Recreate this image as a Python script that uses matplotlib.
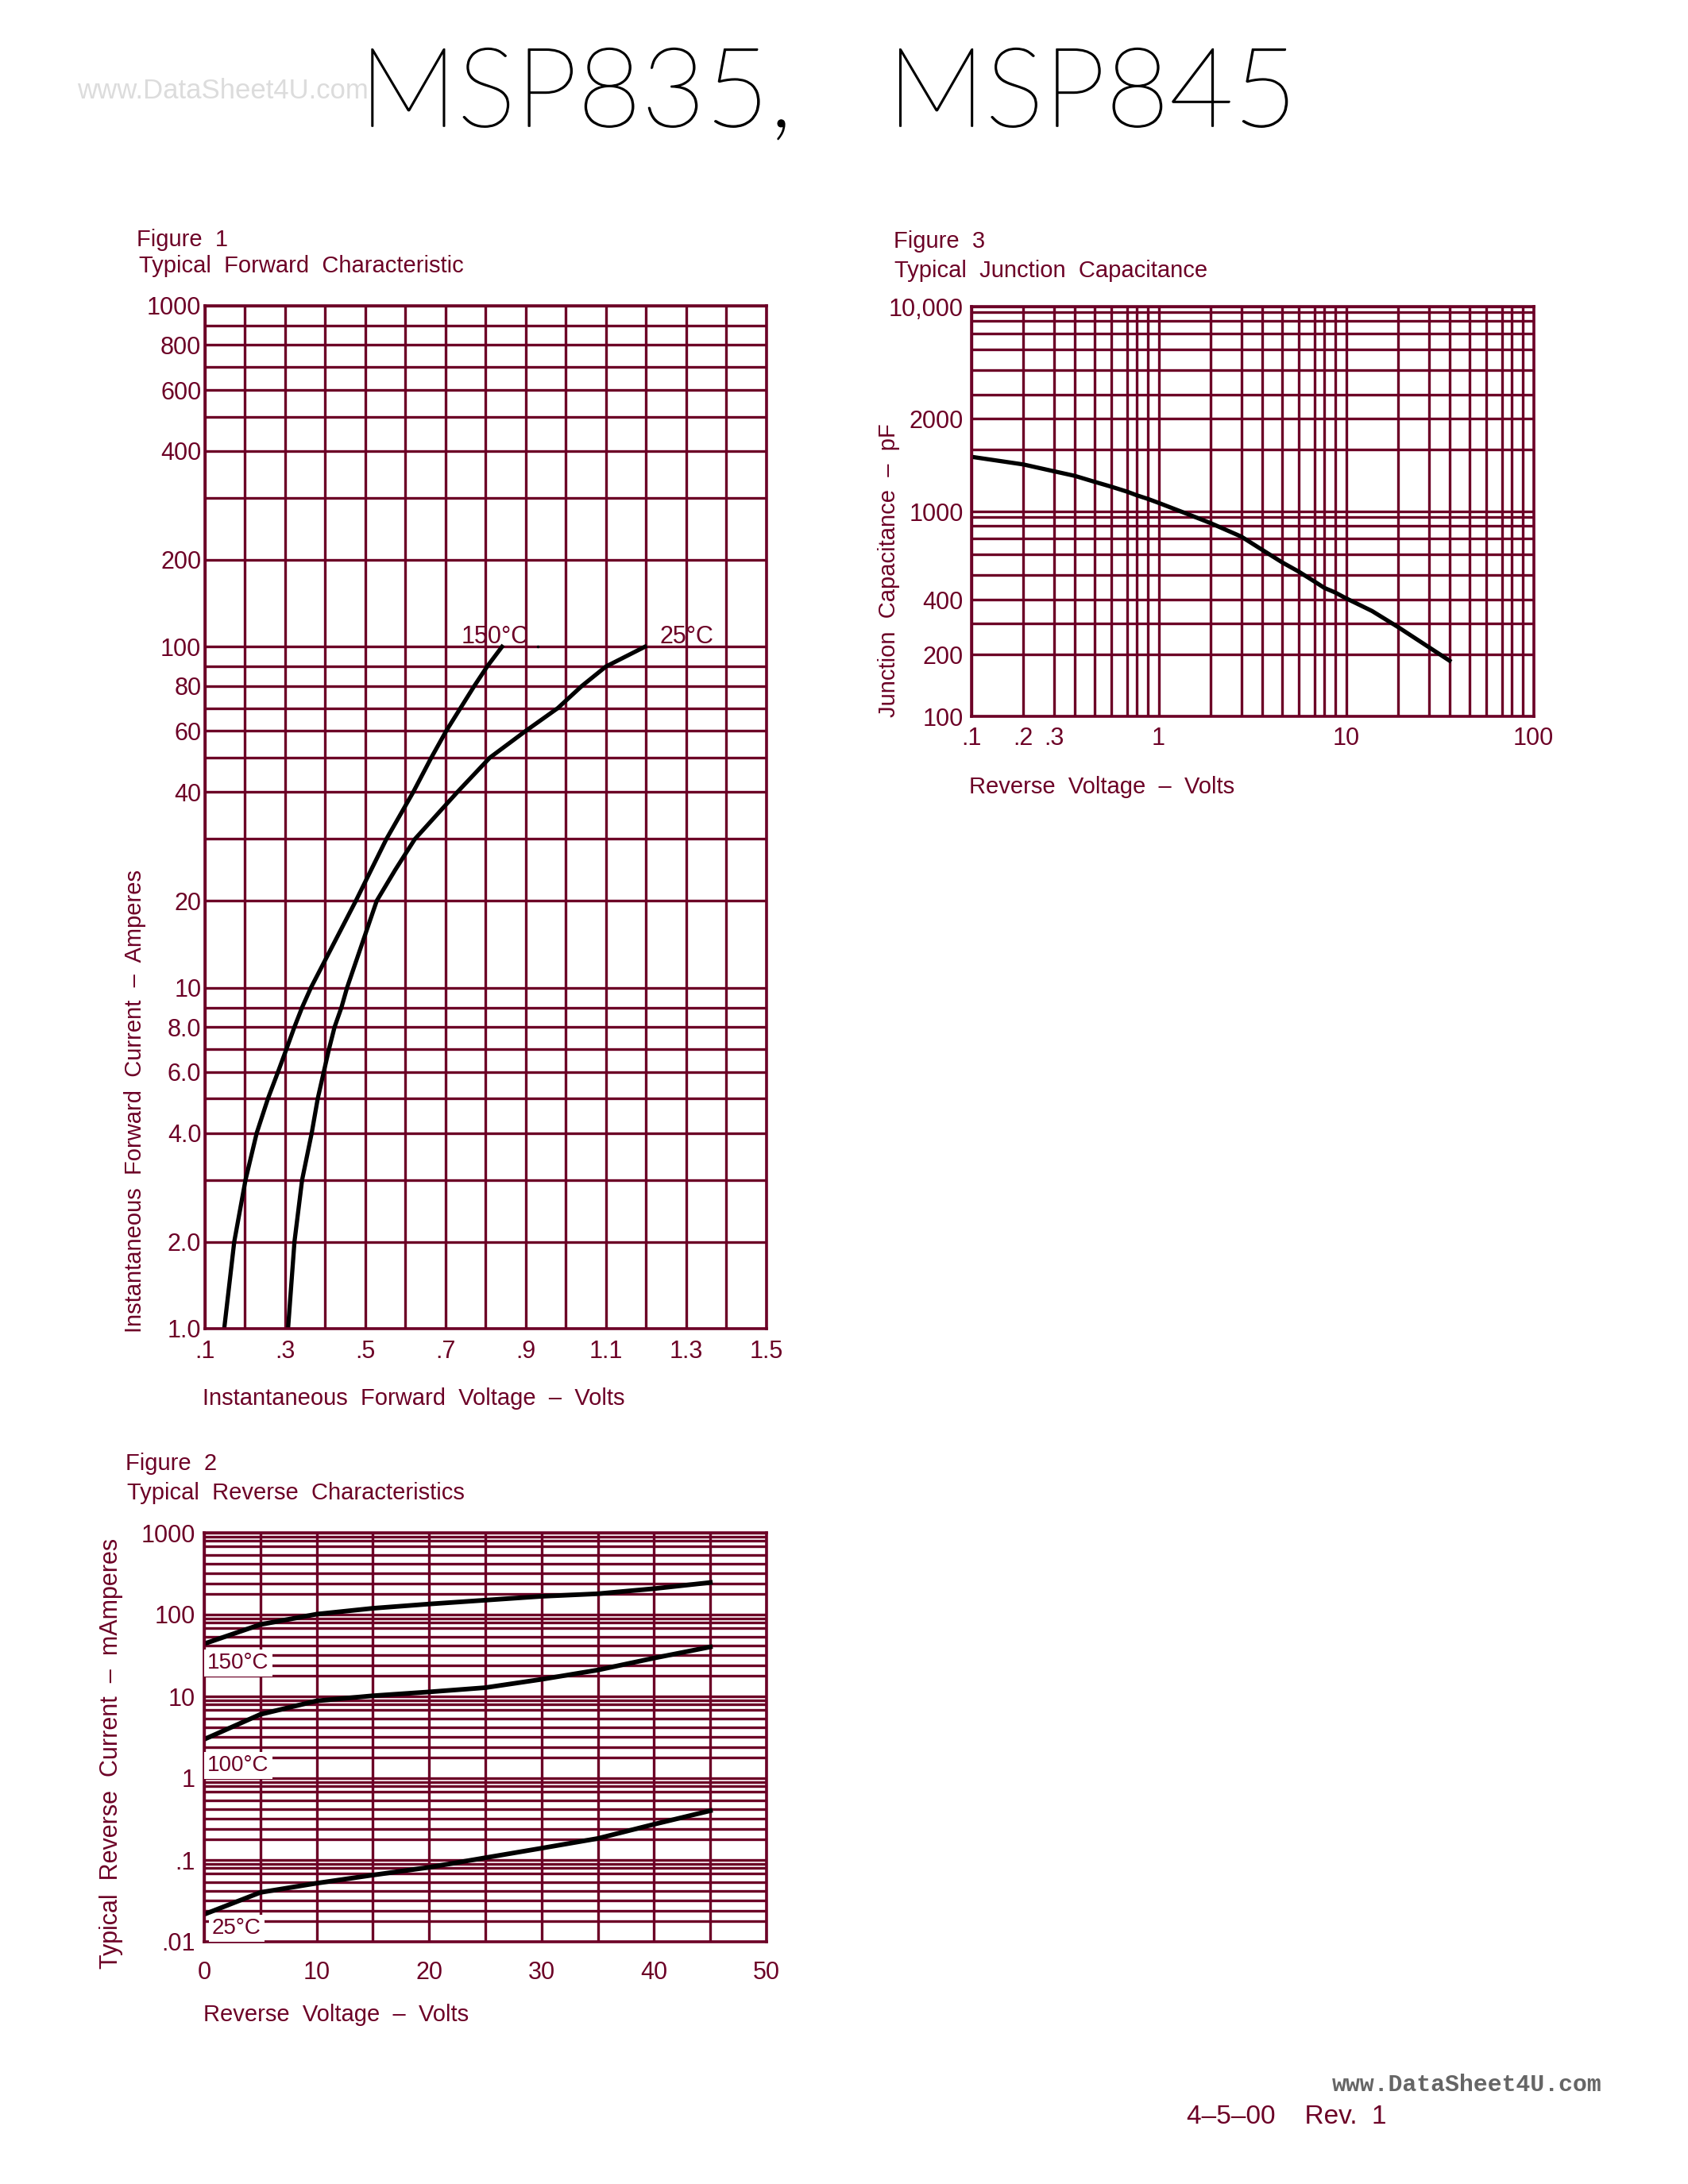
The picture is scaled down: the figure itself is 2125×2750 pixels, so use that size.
import numpy as np
import matplotlib
matplotlib.use('Agg')
import matplotlib.pyplot as plt
import matplotlib.patheffects as pe

W, H = 2125, 2750
MAROON = '#6c0026'
plt.rcParams['font.family'] = ['Liberation Sans', 'DejaVu Sans']

# figure 1 - forward characteristic
f1_v_150 = [.149, .174, .202, .23, .258, .283, .304, .324, .343, .365, .477, .553, .62, .665, .702, .772, .804, .841]
f1_i_150 = [1, 2, 3, 4, 5, 6, 7, 8, 9, 10, 20, 30, 40, 50, 60, 80, 90, 100]
f1_v_25 = [.308, .324, .343, .367, .382, .397, .41, .424, .441, .455, .529, .575, .624, .73, .811, .90, .98, 1.04, 1.10, 1.197]
f1_i_25 = [1, 2, 3, 4, 5, 6, 7, 8, 9, 10, 20, 25, 30, 40, 50, 60, 70, 80, 90, 100]
f1_xticks = [.1, .3, .5, .7, .9, 1.1, 1.3, 1.5]
f1_xlabels = ['.1', '.3', '.5', '.7', '.9', '1.1', '1.3', '1.5']
f1_yticks = [1000, 800, 600, 400, 200, 100, 80, 60, 40, 20, 10, 8, 6, 4, 2, 1]
f1_ylabels = ['1000', '800', '600', '400', '200', '100', '80', '60', '40', '20', '10', '8.0', '6.0', '4.0', '2.0', '1.0']

# figure 2 - reverse characteristics
f2_v = [0, 5, 10, 15, 20, 25, 30, 35, 40, 45]
f2_i_150 = [51.7, 76.8, 102, 131, 152, 171, 190, 205, 253, 311]
f2_i_100 = [3.76, 6.5, 8.9, 10.3, 12.2, 14.3, 18.4, 25.7, 37.1, 48.3]
f2_i_25 = [.0267, .0482, .0588, .0684, .082, .111, .158, .2115, .346, .481]
f2_xticks = [0, 10, 20, 30, 40, 50]
f2_yticks = [1000, 100, 10, 1, .1, .01]
f2_ylabels = ['1000', '100', '10', '1', '.1', '.01']

# figure 3 - junction capacitance
f3_v = [.1, .2, .3, .4, .5, .6, .7, .8, .9, 1, 1.5, 2, 3, 4, 5, 6, 7, 8, 9, 10, 15, 20, 30, 40]
f3_c = [1884, 1760, 1650, 1576, 1477, 1400, 1320, 1260, 1205, 1139, 973, 826, 712, 629, 561, 517, 474, 448, 430, 406, 353, 289, 224, 190]
f3_xticks = [.1, .2, .3, 1, 10, 100]
f3_xlabels = ['.1', '.2', '.3', '1', '10', '100']
# the 2000 label sits on the third line of the decade in the original
f3_yticks = [10000, 3000, 1000, 400, 200, 100]
f3_ylabels = ['10,000', '2000', '1000', '400', '200', '100']

# the printed grids are not true log paper, line positions inside one decade
MULTS = [1, 2, 3, 4, 5, 6, 7, 8, 9, 10]
F1_FRACS = [0, .255, .436, .574, .675, .753, .82, .885, .942, 1]
F2_FRACS = [0, .248, .378, .505, .625, .728, .832, .90, .95, 1]
F3_YFRACS = [0, .302, .452, .569, .689, .79, .87, .932, .974, 1]
F3_XFRACS = [0, .278, .441, .552, .661, .748, .832, .885, .941, 1]


def paper_scale(fracs):
    def fwd(v):
        v = np.clip(np.asarray(v, dtype=float), 1e-12, None)
        d = np.floor(np.log10(v) + 1e-9)
        return d + np.interp(v / 10.0 ** d, MULTS, fracs)

    def inv(p):
        p = np.asarray(p, dtype=float)
        d = np.floor(p)
        return 10.0 ** d * np.interp(p - d, fracs, MULTS)
    return fwd, inv


def decades(lo, hi):
    out = []
    for d in range(lo, hi):
        out += [m * 10.0 ** d for m in MULTS]
    return sorted(set(out))


def make_axes(left, top, right, bottom):
    ax = fig.add_axes([left / W, 1 - bottom / H, (right - left) / W, (bottom - top) / H])
    for s in ax.spines.values():
        s.set_color(MAROON)
        s.set_linewidth(2.6)
    ax.tick_params(which='both', length=0, colors=MAROON, labelsize=22)
    ax.grid(which='both', color=MAROON, linewidth=2.4)
    ax.set_axisbelow(True)
    return ax


def label(x, y, s, size=21, **kw):
    kw.setdefault('color', MAROON)
    kw.setdefault('ha', 'left')
    kw.setdefault('va', 'center')
    return fig.text(x / W, 1 - y / H, s, fontsize=size, **kw)


fig = plt.figure(figsize=(W / 100, H / 100), dpi=100)

# figure 1
ax1 = make_axes(257.5, 385, 965, 1673)
ax1.set_yscale('function', functions=paper_scale(F1_FRACS))
ax1.set_ylim(1, 1000)
ax1.set_xlim(.1, 1.5)
ax1.set_xticks(np.arange(.1, 1.55, .1), minor=True)
ax1.set_xticks(f1_xticks, f1_xlabels)
ax1.set_yticks(decades(0, 3), minor=True)
ax1.set_yticks(f1_yticks, f1_ylabels)
ax1.tick_params(which='minor', labelleft=False, labelbottom=False)
ax1.tick_params(axis='y', pad=3)
ax1.tick_params(axis='x', pad=10)
ax1.plot(f1_v_150, f1_i_150, color='black', lw=3.8)
ax1.plot(f1_v_25, f1_i_25, color='black', lw=3.8)
ax1.plot([.93], [100], '.', color='black', ms=3)
label(172, 302, 'Figure  1')
label(175, 335, 'Typical  Forward  Characteristic')
label(255, 1761, 'Instantaneous  Forward  Voltage  –  Volts')
label(170, 1678, 'Instantaneous  Forward  Current  –  Amperes', rotation=90, ha='center', va='bottom')
label(581, 802, '150°C', size=22)
label(830, 802, '25°C', size=22)

# figure 2
ax2 = make_axes(257, 1930, 965, 2445)
ax2.set_yscale('function', functions=paper_scale(F2_FRACS))
ax2.set_ylim(.01, 1000)
ax2.set_xlim(0, 50)
ax2.set_xticks(np.arange(0, 51, 5), minor=True)
ax2.set_xticks(f2_xticks, [str(v) for v in f2_xticks])
ax2.set_yticks(decades(-2, 3), minor=True)
ax2.set_yticks(f2_yticks, f2_ylabels)
ax2.tick_params(which='minor', labelleft=False, labelbottom=False)
ax2.tick_params(axis='y', pad=8)
ax2.tick_params(axis='x', pad=17)
ax2.plot(f2_v, f2_i_150, color='black', lw=4.2)
ax2.plot(f2_v, f2_i_100, color='black', lw=4.2)
ax2.plot(f2_v, f2_i_25, color='black', lw=4.2)
label(158, 1843, 'Figure  2')
label(160, 1880, 'Typical  Reverse  Characteristics')
label(256, 2537, 'Reverse  Voltage  –  Volts')
label(140, 2479, 'Typical  Reverse  Current  –  mAmperes', size=22, rotation=90, ha='center', va='bottom')
box = dict(facecolor='white', edgecolor='none', pad=3)
label(261, 2094, '150°C', size=20, bbox=box)
label(261, 2223, '100°C', size=20, bbox=box)
label(267, 2428, '25°C', size=20, bbox=box)

# figure 3
ax3 = make_axes(1222.5, 386, 1930.5, 902)
ax3.set_xscale('function', functions=paper_scale(F3_XFRACS))
ax3.set_yscale('function', functions=paper_scale(F3_YFRACS))
ax3.set_xlim(.1, 100)
ax3.set_ylim(100, 10000)
ax3.set_xticks(decades(-1, 2), minor=True)
ax3.set_xticks(f3_xticks, f3_xlabels)
ax3.set_yticks(decades(2, 4), minor=True)
ax3.set_yticks(f3_yticks, f3_ylabels)
ax3.tick_params(which='minor', labelleft=False, labelbottom=False)
ax3.tick_params(axis='y', pad=7)
ax3.tick_params(axis='x', pad=9)
ax3.plot(f3_v, f3_c, color='black', lw=3.8)
label(1125, 304, 'Figure  3')
label(1126, 341, 'Typical  Junction  Capacitance')
label(1220, 991, 'Reverse  Voltage  –  Volts')
label(1119, 903, 'Junction  Capacitance  –  pF', rotation=90, ha='center', va='bottom')

# page furniture
title = fig.text(452 / W, 1 - 159 / H, 'MSP835,   MSP845', fontsize=100, color='black',
                 family=['Lato', 'Liberation Sans'], weight=100, va='baseline')
title.set_path_effects([pe.withStroke(linewidth=1.2, foreground='black')])
label(97, 114, 'www.DataSheet4U.com', size=25, color='#dcdcdc')
label(1677, 2625, 'www.DataSheet4U.com', size=21.5, color='#666666', weight='bold', family=['Liberation Mono', 'Liberation Sans'])
label(1494, 2665, '4–5–00    Rev.  1', size=24)

fig.savefig('out.png', dpi=100)
